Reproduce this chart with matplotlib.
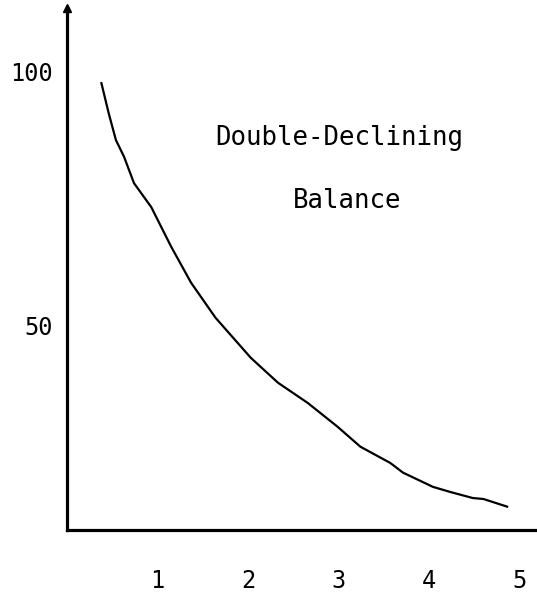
import numpy as np
import matplotlib.pyplot as plt

# curve
years = [0.38, 0.46, 0.54, 0.63, 0.74, 0.93, 1.15, 1.37, 1.64, 2.03, 2.33,
         2.66, 2.99, 3.24, 3.57, 3.71, 4.04, 4.23, 4.48, 4.60, 4.86]
value = [97.8, 91.9, 86.6, 83.3, 78.1, 73.4, 65.6, 58.5, 51.6, 43.7, 38.8,
         34.8, 30.1, 26.2, 23.0, 21.1, 18.3, 17.3, 16.1, 15.9, 14.4]
x_ticks = [1, 2, 3, 4, 5]
y_ticks = [50, 100]

plt.rcParams['font.family'] = ['DejaVu Sans Mono', 'DejaVu Sans']

fig = plt.figure(figsize=(5.37, 5.94), dpi=100)
ax = fig.add_axes([67 / 537, 64 / 594, 470 / 537, 522 / 594])

ax.plot(years, value, color='black', lw=1.6)
ax.set_xlim(0, 5.19)
ax.set_ylim(9.8, 112.6)

for s in ['top', 'right']:
    ax.spines[s].set_visible(False)
for s in ['left', 'bottom']:
    ax.spines[s].set_linewidth(2.3)
ax.plot(0, 1, marker='^', color='black', markersize=6,
        transform=ax.transAxes, clip_on=False)

ax.set_xticks(x_ticks)
ax.set_yticks(y_ticks)
ax.tick_params(axis='x', length=0, pad=28, labelsize=17)
ax.tick_params(axis='y', length=0, pad=10, labelsize=17)

ax.text(3.01, 87, "Double-Declining", ha='center', va='center', fontsize=18.5)
ax.text(3.09, 74.5, "Balance", ha='center', va='center', fontsize=18.5)

fig.savefig('out.png', dpi=100)
